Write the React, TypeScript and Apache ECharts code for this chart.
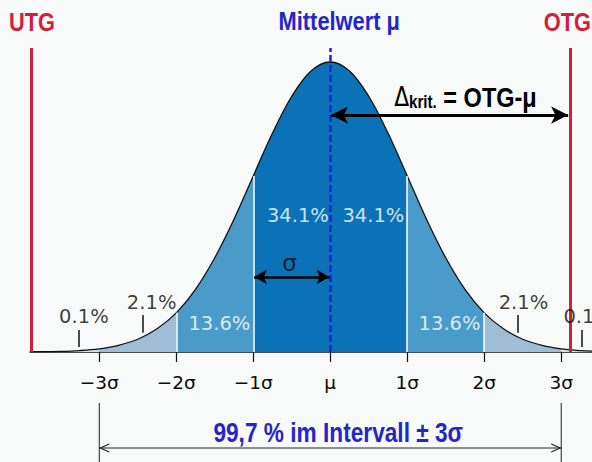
import React, { useEffect, useRef } from "react";
import * as echarts from "echarts";

// x in units of sigma, density scaled so that the peak is 1
const xs = [-3.9, -3.75, -3.5, -3.25, -3, -2.75, -2.5, -2.25, -2, -1.75, -1.5, -1.25, -1, -0.75, -0.5, -0.25, 0,
  0.25, 0.5, 0.75, 1, 1.25, 1.5, 1.75, 2, 2.25, 2.5, 2.75, 3, 3.25, 3.4];
const density = [0.001, 0.001, 0.002, 0.005, 0.011, 0.023, 0.044, 0.08, 0.135, 0.216, 0.325, 0.458, 0.607, 0.755, 0.882, 0.969, 1,
  0.969, 0.882, 0.755, 0.607, 0.458, 0.325, 0.216, 0.135, 0.08, 0.044, 0.023, 0.011, 0.005, 0.003];

const tickValues = [-3, -2, -1, 0, 1, 2, 3];
const tickLabels = ["−3σ", "−2σ", "−1σ", "μ", "1σ", "2σ", "3σ"];

const regionBounds = [-3.9, -3, -2, -1, 1, 2, 3, 3.4];
const regionColors = ["#d3e1ec", "#9fbdd7", "#4a9bca", "#0b72b8", "#4a9bca", "#9fbdd7", "#d3e1ec"];
const separators = [-2, -1, 1, 2];

const limitUTG = -3.88;
const limitOTG = 3.12;

// share labels: text, x, y (data coords)
const shareTexts = ["0.1%", "2.1%", "13.6%", "34.1%", "34.1%", "13.6%", "2.1%", "0.1%"];
const shareX = [-3.2, -2.32, -1.44, -0.42, 0.56, 1.55, 2.51, 3.35];
const shareY = [0.124, 0.172, 0.097, 0.469, 0.469, 0.097, 0.172, 0.124];
const shareWhite = [false, false, true, true, true, true, false, false];
// small pointer ticks for the outer shares
const pointerX = [-3.27, -2.44, 2.44, 3.27];
const pointerY0 = [0.017, 0.066, 0.066, 0.017];
const pointerY1 = [0.076, 0.128, 0.128, 0.076];

const deltaY = 0.817;
const sigmaArrowY = 0.259;

const YMAX = 1.048;
const RED = "#d21f3c";
const BLUE = "#2626c8";
const ARIAL = "'Liberation Sans', Arial, sans-serif";
const DEJAVU = "'DejaVu Sans', sans-serif";
const NARROW_SCALE = 0.84;

function densityAt(x: number) {
  const i = xs.indexOf(x);
  return i >= 0 ? density[i] : 0;
}

export default function App() {
  const ref = useRef<HTMLDivElement>(null);
  useEffect(() => {
    if (!ref.current) return;
    const chart = echarts.init(ref.current, null, { renderer: "svg" });
    const pts = xs.map((x, i) => [x, density[i]]);

    const regionSeries = regionColors.map((c, i) => ({
      type: "line",
      data: pts.filter((p) => p[0] >= regionBounds[i] - 1e-9 && p[0] <= regionBounds[i + 1] + 1e-9),
      smooth: 0.35,
      symbol: "none",
      lineStyle: { width: 0, opacity: 0 },
      areaStyle: { color: c, opacity: 1 },
      silent: true,
      z: 2,
    }));

    const ml: any[] = [];
    separators.forEach((b) => {
      ml.push([
        { coord: [b, 0], lineStyle: { color: "#ffffff", width: 1.5, type: "solid" } },
        { coord: [b, densityAt(b)] },
      ]);
    });
    ml.push([
      { coord: [0, 0], lineStyle: { color: "#1a22e6", width: 2.5, type: [7, 3] } },
      { coord: [0, YMAX] },
    ]);
    [limitUTG, limitOTG].forEach((x) => {
      ml.push([
        { coord: [x, 0], lineStyle: { color: RED, width: 3, type: "solid" } },
        { coord: [x, YMAX] },
      ]);
    });
    ml.push([
      { coord: [0.01, deltaY], symbol: "arrow", symbolSize: [13, 17], lineStyle: { color: "#000", width: 3, type: "solid" } },
      { coord: [3.09, deltaY], symbol: "arrow", symbolSize: [13, 17] },
    ]);
    ml.push([
      { coord: [-0.99, sigmaArrowY], symbol: "arrow", symbolSize: [11, 13], lineStyle: { color: "#000", width: 2.5, type: "solid" } },
      { coord: [-0.01, sigmaArrowY], symbol: "arrow", symbolSize: [11, 13] },
    ]);
    pointerX.forEach((x, i) => {
      ml.push([
        { coord: [x, pointerY0[i]], lineStyle: { color: "#111", width: 1.5, type: "solid" } },
        { coord: [x, pointerY1[i]] },
      ]);
    });

    const labelData: any[] = shareTexts.map((t, i) => ({
      value: [shareX[i], shareY[i]],
      label: {
        show: true,
        formatter: t,
        position: "inside",
        color: shareWhite[i] ? "#ffffff" : "#0a0a0a",
        fontSize: 19.5,
        fontFamily: DEJAVU,
      },
    }));
    labelData.push({
      value: [-0.53, 0.307],
      label: { show: true, formatter: "σ", position: "inside", color: "#0a0a0a", fontSize: 23, fontFamily: DEJAVU },
    });

    const option: any = {
      animation: false,
      backgroundColor: "#f7faf8",
      grid: { left: 30, right: 0, top: 352 - 290 * YMAX, bottom: 110 },
      xAxis: {
        type: "value",
        min: -3.9,
        max: 3.4,
        axisLine: { show: true, onZero: false, lineStyle: { color: "#111", width: 1.5 } },
        axisTick: { show: true, customValues: tickValues, length: 10, lineStyle: { color: "#111", width: 1.2 } },
        axisLabel: {
          show: true,
          customValues: tickValues,
          margin: 21,
          fontSize: 18.5,
          fontFamily: DEJAVU,
          color: "#0a0a0a",
          formatter: (v: number) => {
            const i = tickValues.indexOf(Math.round(v));
            return i >= 0 ? tickLabels[i] : "";
          },
        },
        splitLine: { show: false },
      },
      yAxis: { type: "value", min: 0, max: YMAX, show: false, splitLine: { show: false } },
      series: [
        ...regionSeries,
        {
          type: "line",
          data: pts,
          smooth: 0.35,
          symbol: "none",
          lineStyle: { color: "#111", width: 1.3 },
          silent: true,
          z: 3,
          markLine: { silent: true, symbol: "none", label: { show: false }, data: ml, animation: false },
        },
        {
          type: "scatter",
          data: labelData,
          symbolSize: 1,
          itemStyle: { color: "rgba(0,0,0,0)" },
          silent: true,
          z: 5,
        },
      ],
    };
    chart.setOption(option);

    const pL = chart.convertToPixel({ gridIndex: 0 }, [-3, 0]) as number[];
    const pR = chart.convertToPixel({ gridIndex: 0 }, [3, 0]) as number[];
    const pM = chart.convertToPixel({ gridIndex: 0 }, [0, 0]) as number[];
    const pD = chart.convertToPixel({ gridIndex: 0 }, [0.83, 0.879]) as number[];
    const xl = pL[0];
    const xr = pR[0];
    const yArrow = 448;
    const narrowText = (text: string, x: number, y: number, fill: string, align: string, size = 26) => ({
      type: "text",
      x,
      y,
      scaleX: NARROW_SCALE,
      style: { text, fill, font: `bold ${size}px ${ARIAL}`, align, verticalAlign: "middle" },
    });
    chart.setOption({
      graphic: [
        narrowText("UTG", 9, 22, RED, "left"),
        narrowText("OTG", 591, 22, RED, "right"),
        narrowText("Mittelwert μ", pM[0] + 9, 21, BLUE, "center"),
        {
          type: "text",
          x: pD[0],
          y: pD[1],
          scaleX: NARROW_SCALE,
          style: {
            text: "{d|Δ}{k|krit.}{e| = OTG-μ}",
            verticalAlign: "middle",
            align: "left",
            rich: {
              d: { fontSize: 26, fontFamily: DEJAVU, fill: "#000" },
              k: { fontSize: 18, fontFamily: ARIAL, fontWeight: "bold", fill: "#000", padding: [9, 0, 0, 0] },
              e: { fontSize: 28, fontFamily: ARIAL, fontWeight: "bold", fill: "#000" },
            },
          },
        },
        { type: "line", shape: { x1: xl, y1: 403, x2: xl, y2: 462 }, style: { stroke: "#222", lineWidth: 1 } },
        { type: "line", shape: { x1: xr, y1: 403, x2: xr, y2: 462 }, style: { stroke: "#222", lineWidth: 1 } },
        { type: "line", shape: { x1: xl, y1: yArrow, x2: xr, y2: yArrow }, style: { stroke: "#222", lineWidth: 1 } },
        { type: "polyline", shape: { points: [[xl + 10, yArrow - 4], [xl + 1, yArrow], [xl + 10, yArrow + 4]] }, style: { stroke: "#222", lineWidth: 1.2, fill: "none" } },
        { type: "polyline", shape: { points: [[xr - 10, yArrow - 4], [xr - 1, yArrow], [xr - 10, yArrow + 4]] }, style: { stroke: "#222", lineWidth: 1.2, fill: "none" } },
        narrowText("99,7 % im Intervall ± 3σ", pM[0] + 8, 432, BLUE, "center", 27),
      ],
    });
    return () => chart.dispose();
  }, []);
  return <div ref={ref} style={{ width: 592, height: 462, position: "absolute", left: 0, top: 0 }} />;
}
